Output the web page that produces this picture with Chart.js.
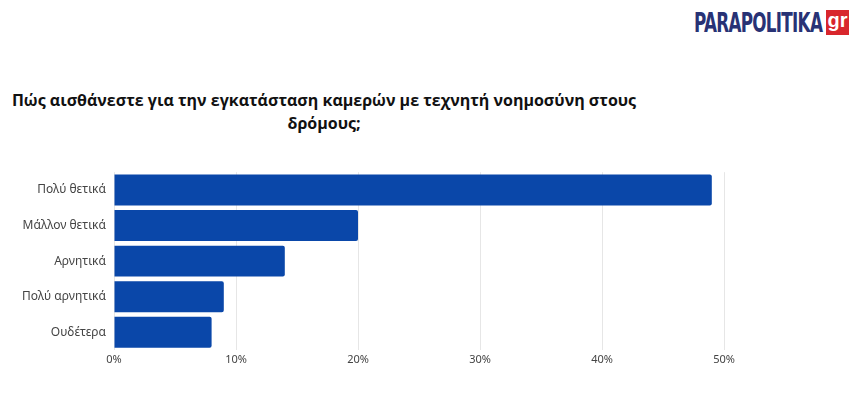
<!DOCTYPE html>
<html>
<head>
<meta charset="utf-8">
<script src="https://cdn.jsdelivr.net/npm/chart.js@4/dist/chart.umd.min.js"></script>
<style>
  html, body { margin: 0; padding: 0; background: #fff; }
  body { width: 861px; height: 397px; position: relative; overflow: hidden; }
  #logo { position: absolute; left: 694px; top: 8px; width: 160px; height: 30px; white-space: nowrap; }
  #logo .name {
    position: absolute; left: 0; top: 0;
    display: inline-block; font-family: "Liberation Sans Narrow", "DejaVu Sans Condensed", sans-serif;
    font-weight: bold; font-size: 27px; color: #283275; letter-spacing: -1px;
    transform: scaleX(0.69); transform-origin: left top; line-height: 30px;
  }
  #logo .gr {
    position: absolute; left: 132px; top: 2px; width: 23px; height: 25px; background: #d8262c;
    color: #fff; font-family: "Liberation Sans Narrow", sans-serif; font-weight: bold;
    font-size: 20px; line-height: 20px; text-align: center;
  }
  #title {
    position: absolute; left: 0; top: 89px; width: 648px; text-align: center;
    font-family: "Open Sans", sans-serif; font-weight: bold; font-size: 16px;
    line-height: 23px; color: #111;
  }
  #wrap { position: absolute; left: 0; top: 157px; width: 861px; height: 240px; }
</style>
</head>
<body>
<div id="logo"><span class="name">PARAPOLITIKA</span><div class="gr">gr</div></div>
<div id="title">Πώς αισθάνεστε για την εγκατάσταση καμερών με τεχνητή νοημοσύνη στους δρόμους;</div>
<div id="wrap"><canvas id="myChart"></canvas></div>
<script>
const chartEl = document.getElementById("myChart")

let answers = ["Πολύ θετικά", "Μάλλον θετικά", "Αρνητικά", "Πολύ αρνητικά", "Ουδέτερα"];
let shares = [49, 20, 14, 9, 8];
let xTicks = [0, 10, 20, 30, 40, 50];

new Chart(chartEl, {
  type: "bar",
  data: {
    labels: answers,
    datasets: [{
      data: shares,
      backgroundColor: "#0a47a9",
      borderRadius: 2,
      borderSkipped: "start",
      barPercentage: 0.87,
      categoryPercentage: 1
    }]
  },
  options: {
    indexAxis: "y",
    responsive: true,
    maintainAspectRatio: false,
    animation: false,
    layout: { padding: { top: 7, right: 137, bottom: 27, left: 0 } },
    plugins: { legend: { display: false }, tooltip: { enabled: false } },
    scales: {
      x: {
        min: 0, max: 50,
        afterBuildTicks: (s) => { s.ticks = xTicks.map(v => ({ value: v })); },
        afterFit: (s) => { s.height = 20; },
        border: { display: false },
        grid: { color: "#e6e6e6", drawTicks: false },
        ticks: {
          padding: 3,
          color: "#444",
          font: { family: "Noto Sans", size: 11 },
          callback: (v) => v + "%"
        }
      },
      y: {
        afterFit: (s) => { s.width = 114; },
        border: { display: false },
        grid: { display: false, drawTicks: false },
        ticks: {
          padding: 8,
          color: "#444",
          font: { family: "Noto Sans", size: 12 }
        }
      }
    }
  }
});
</script>
</body>
</html>
